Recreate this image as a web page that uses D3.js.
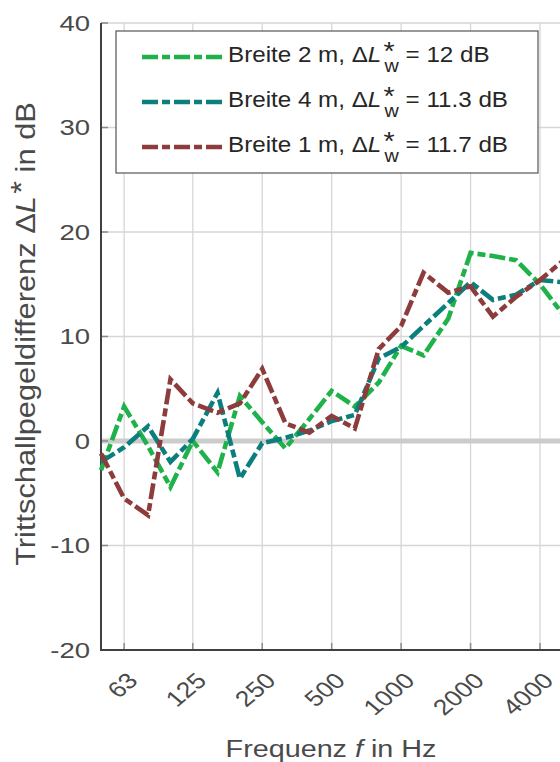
<!DOCTYPE html>
<html>
<head>
<meta charset="utf-8">
<script src="https://cdn.jsdelivr.net/npm/d3@7"></script>
<style>
  html, body { margin: 0; padding: 0; background: #fff; }
  svg { display: block; font-family: "Liberation Sans", Arial, sans-serif; }
</style>
</head>
<body>
<div id="chart"></div>
<script>
// terzband centre frequencies (Hz)
const freqs = [50, 63, 80, 100, 125, 160, 200, 250, 315, 400, 500, 630, 800, 1000, 1250, 1600, 2000, 2500, 3150, 4000, 5000];
// Trittschallpegeldifferenz in dB
const width2m = [-2.8, 3.3, -0.5, -4.4, 0.0, -3.0, 4.3, 1.8, -0.7, 2.1, 4.8, 3.3, 5.6, 9.1, 8.2, 11.7, 18.0, 17.7, 17.3, 15.0, 12.2];
const width4m = [-2.0, -0.6, 1.4, -2.0, 0.2, 4.6, -3.6, -0.2, 0.3, 1.0, 1.9, 2.5, 7.9, 9.0, 11.0, 13.2, 15.2, 13.5, 14.0, 15.4, 15.2];
const width1m = [-1.2, -5.5, -7.1, 5.9, 3.6, 2.7, 3.6, 6.9, 1.7, 0.8, 2.4, 1.2, 8.8, 11.0, 16.1, 14.2, 14.8, 11.9, 13.8, 15.4, 17.2];

const xTicks = [63, 125, 250, 500, 1000, 2000, 4000];
const yTicks = [-20, -10, 0, 10, 20, 30, 40];

const series = [
  { name: 'Breite 2 m', value: '12 dB', color: '#1fb24b', data: width2m },
  { name: 'Breite 4 m', value: '11.3 dB', color: '#0b7f7c', data: width4m },
  { name: 'Breite 1 m', value: '11.7 dB', color: '#8e3b3c', data: width1m }
];

const W = 560, H = 762;
const pLeft = 101, pTop = 23, pBottom = 650, pRight = 620;
const NB = '\u00a0';

const svg = d3.select('#chart').append('svg')
  .attr('width', W)
  .attr('height', H);

const x = d3.scaleLog().domain([50, 4000]).range([pLeft, 540]);
const y = d3.scaleLinear().domain([-20, 40]).range([pBottom, pTop]);

// grid
const grid = svg.append('g').attr('stroke', '#d6d6d6').attr('stroke-width', 1.3);
grid.selectAll('line.v')
  .data(xTicks)
  .enter().append('line')
    .attr('x1', d => x(d)).attr('x2', d => x(d))
    .attr('y1', pTop).attr('y2', pBottom);
grid.selectAll('line.h')
  .data(yTicks.filter(d => d !== 0))
  .enter().append('line')
    .attr('x1', pLeft).attr('x2', pRight)
    .attr('y1', d => y(d)).attr('y2', d => y(d));

// zero line
svg.append('line')
  .attr('x1', pLeft).attr('x2', pRight)
  .attr('y1', y(0)).attr('y2', y(0))
  .attr('stroke', '#cccccc')
  .attr('stroke-width', 5);

// inner ticks
const ticks = svg.append('g').attr('stroke', '#8a8a8a').attr('stroke-width', 1.5);
ticks.selectAll('line.yt')
  .data(yTicks)
  .enter().append('line')
    .attr('x1', pLeft).attr('x2', pLeft + 7)
    .attr('y1', d => y(d)).attr('y2', d => y(d));
ticks.selectAll('line.xt')
  .data(xTicks)
  .enter().append('line')
    .attr('x1', d => x(d)).attr('x2', d => x(d))
    .attr('y1', pBottom).attr('y2', pBottom - 7);

// axis lines
svg.append('path')
  .attr('d', `M${pLeft},${pTop}V${pBottom}H${pRight}`)
  .attr('fill', 'none')
  .attr('stroke', '#404040')
  .attr('stroke-width', 2);

// data lines
const line = d3.line()
  .x((d, i) => x(freqs[i]))
  .y(d => y(d));

svg.append('g')
  .selectAll('path')
  .data(series)
  .join('path')
    .attr('d', d => line(d.data))
    .attr('fill', 'none')
    .attr('stroke', d => d.color)
    .attr('stroke-width', 4.6)
    .attr('stroke-dasharray', '16,4,8,4');

// tick labels
svg.append('g')
  .attr('fill', '#4a4a4a')
  .attr('font-size', 22)
  .attr('text-anchor', 'end')
  .selectAll('text')
  .data(yTicks)
  .join('text')
    .attr('transform', d => `translate(90,${y(d)}) scale(1.25,1)`)
    .attr('dy', '0.36em')
    .text(d => d);

svg.append('g')
  .attr('fill', '#4a4a4a')
  .attr('font-size', 22)
  .attr('text-anchor', 'end')
  .selectAll('text')
  .data(xTicks)
  .join('text')
    .attr('transform', d => `translate(${x(d) + 15},682) scale(1.2,1) rotate(-45)`)
    .text(d => d);

// x label
const xl = svg.append('text')
  .attr('transform', 'translate(331,757) scale(1.25,1)')
  .attr('text-anchor', 'middle')
  .attr('font-size', 23)
  .attr('fill', '#4a4a4a');
xl.append('tspan').text('Frequenz ');
xl.append('tspan').attr('font-style', 'italic').text('f');
xl.append('tspan').text(' in Hz');

// writes pieces one after the other, returns the total width
function pieces(g, parts, x0, y0) {
  let cx = x0;
  parts.forEach(p => {
    if (p.stack) {
      // super- and subscript stacked at the same x, in one text element
      const t = g.append('text');
      let w = 0;
      p.stack.forEach(s => {
        const ts = t.append('tspan')
          .attr('x', cx + (s.dx || 0)).attr('y', y0 + s.dy)
          .attr('font-size', s.size)
          .text(s.text);
        w = Math.max(w, ts.node().getComputedTextLength() + (s.dx || 0));
      });
      cx += w;
    } else {
      const t = g.append('text')
        .attr('x', cx).attr('y', y0)
        .attr('font-style', p.italic ? 'italic' : null)
        .text(p.text);
      cx += t.node().getComputedTextLength();
    }
  });
  return cx - x0;
}

// y label
const yl = svg.append('g')
  .attr('fill', '#4a4a4a')
  .attr('font-size', 28);
const ylw = pieces(yl, [
  { text: 'Trittschallpegeldifferenz' + NB + '\u0394' },
  { text: 'L', italic: true },
  { stack: [{ text: '*', dy: -4, size: 30, dx: 2 }] },
  { text: NB + 'in' + NB + 'dB' }
], 0, 0);
yl.attr('transform', `translate(35,334) rotate(-90) scale(1.1,1) translate(${-ylw / 2},0)`);

// legend
const lg = svg.append('g');
lg.append('rect')
  .attr('x', 116).attr('y', 31)
  .attr('width', 422).attr('height', 142)
  .attr('fill', '#fff')
  .attr('stroke', '#555')
  .attr('stroke-width', 1.2);

series.forEach((s, i) => {
  const ly = 57 + i * 45;
  lg.append('line')
    .attr('x1', 142).attr('x2', 222)
    .attr('y1', ly).attr('y2', ly)
    .attr('stroke', s.color)
    .attr('stroke-width', 4.6)
    .attr('stroke-dasharray', '16,4,8,4');
  const g = lg.append('g')
    .attr('fill', '#262626')
    .attr('font-size', 22)
    .attr('transform', `translate(228,${ly + 5}) scale(1.1,1)`);
  pieces(g, [
    { text: s.name + ',' + NB + '\u0394' },
    { text: 'L', italic: true },
    { stack: [{ text: '*', dy: -2, size: 26, dx: 2 }, { text: 'w', dy: 10, size: 18, dx: 3 }] },
    { text: NB + '=' + NB + s.value }
  ], 0, 0);
});
</script>
</body>
</html>
